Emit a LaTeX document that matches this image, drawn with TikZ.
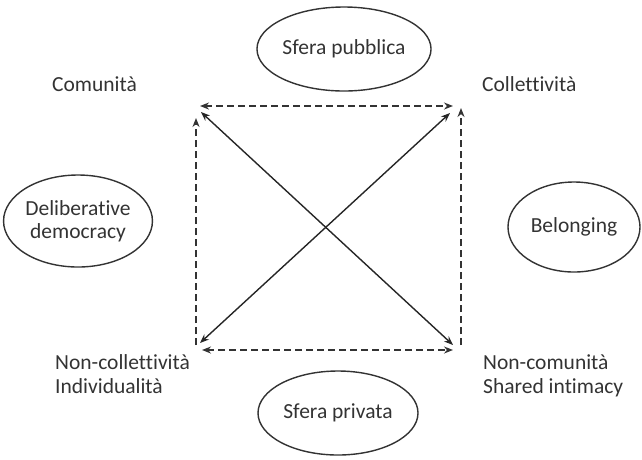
\documentclass[tikz,border=0pt]{standalone}
\usepackage{fontspec}
\setmainfont{Carlito}[Ligatures={NoCommon}]
\usetikzlibrary{arrows.meta,shapes.geometric}
\begin{document}
\begin{tikzpicture}[x=1pt,y=-1pt,
  oval/.style={draw, ellipse, line width=1.4pt, draw=black!80, inner sep=0pt, text=black!80, font=\fontsize{21.5}{23}\selectfont, align=center},
  lbl/.style={anchor=base west, text=black!80, font=\fontsize{21.5}{23}\selectfont, inner sep=0pt},
  dsh/.style={line width=1.7pt, draw=black!80, dash pattern=on 7pt off 4pt},
  sld/.style={line width=1.4pt, draw=black!85},
  tip/.style={-{Stealth[length=9pt,width=7pt]}},
  tips/.style={{Stealth[length=9pt,width=7pt]}-{Stealth[length=9pt,width=7pt]}}]
\useasboundingbox (0,0) rectangle (642,459);
\node[oval, minimum width=146pt, minimum height=84pt] (pub) at (344,49) {Sfera pubblica};
\node[oval, minimum width=160pt, minimum height=84pt] (priv) at (338,413) {Sfera privata};
\node[oval, minimum width=140pt, minimum height=92pt] (delib) at (78,221) {Deliberative\\democracy};
\node[oval, minimum width=132pt, minimum height=90pt] (bel) at (574,227) {Belonging};
\node[lbl] (com) at (52,91) {Comunità};
\node[lbl] (coll) at (482,91) {Collettività};
\node[lbl] (ncoll1) at (55,369) {Non-collettività};
\node[lbl] (ncoll2) at (55,393) {Individualità};
\node[lbl] (ncom1) at (483,369) {Non-comunità};
\node[lbl] (ncom2) at (483,393) {Shared intimacy};
% corners
\coordinate (tl) at (200,106);
\coordinate (tr) at (453,106);
\coordinate (bl) at (202,350);
\coordinate (br) at (453,350);
\coordinate (lt) at (196,118);
\coordinate (lb) at (196,345);
\coordinate (rt) at (461,108);
\coordinate (rb) at (461,345);
\coordinate (d1a) at (201,112);
\coordinate (d1b) at (453,345);
\coordinate (d2a) at (200,343);
\coordinate (d2b) at (450,113);
\draw[dsh, tips] (tl) -- (tr);
\draw[dsh, tips] (bl) -- (br);
\draw[dsh, tip] (lb) -- (lt);
\draw[dsh, tip] (rb) -- (rt);
\draw[sld, tips] (d1a) -- (d1b);
\draw[sld, tips] (d2a) -- (d2b);
\end{tikzpicture}
\end{document}
